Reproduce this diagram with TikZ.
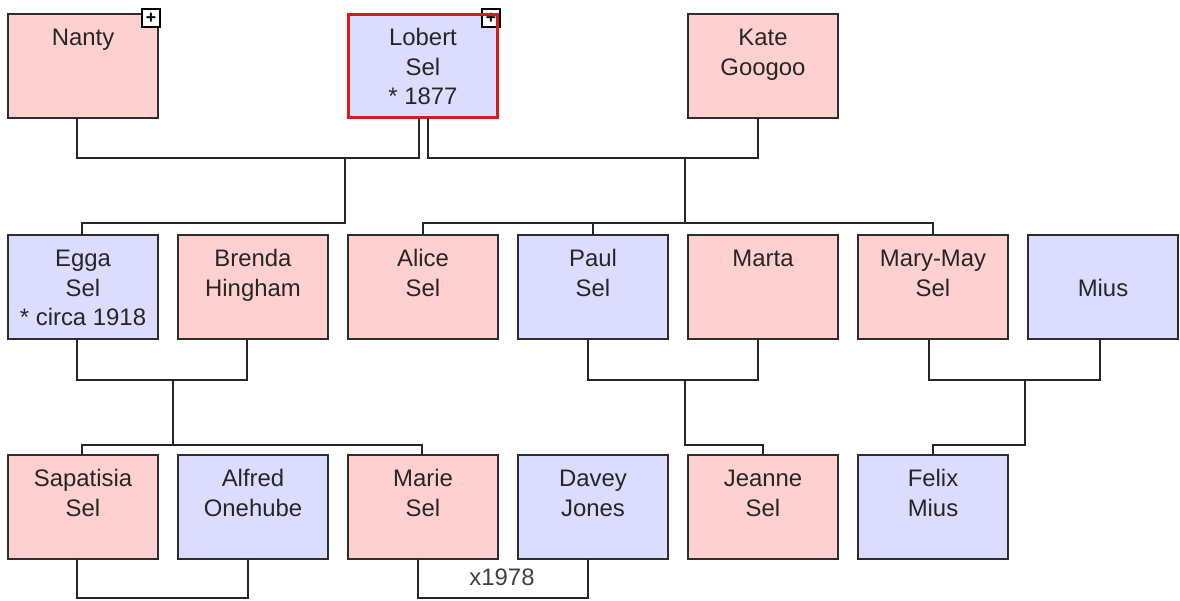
\documentclass[tikz,border=0pt]{standalone}
\usepackage{fontspec}
\setmainfont{Liberation Sans}
\usetikzlibrary{positioning}
\definecolor{herfill}{RGB}{255,208,208}
\definecolor{hisfill}{RGB}{220,220,255}
\definecolor{framegray}{RGB}{45,45,45}
\definecolor{selred}{RGB}{220,25,25}
\newcommand{\persontext}[1]{\parbox[t][2.08cm][t]{3cm}{\centering\rule{0pt}{0.63cm}#1}}

\begin{document}
\begin{tikzpicture}[x=0.02cm,y=-0.02cm,
	person/.style={draw=framegray, line width=1pt, outer sep=0pt, inner sep=0pt,
		minimum width=3cm, minimum height=2.08cm,
		font=\fontsize{13.6pt}{16.8pt}\selectfont, text=black!85},
	her/.style={person, fill=herfill},
	him/.style={person, fill=hisfill},
	link/.style={line width=0.8pt, black!85},
	expander/.style={draw=black, fill=white, line width=0.8pt, minimum size=0.36cm,
		inner sep=0pt, font=\fontsize{10pt}{10pt}\selectfont\bfseries}]
	\useasboundingbox (0,0) rectangle (1180,601);
	% generation 1
	\node[her] (nanty) at (83,66) {\persontext{Nanty}};
	\node[him, draw=selred, line width=1.7pt] (lobert) at (423,66) {\persontext{Lobert\\Sel\\{}* 1877}};
	\node[her] (kate) at (763,66) {\persontext{Kate\\Googoo}};
	\node[expander] (nantyplus) at (151,18) {+};
	\node[expander] (lobertplus) at (491,18) {+};
	\draw[selred, line width=1.7pt] (lobert.south west) rectangle (lobert.north east);
	% generation 2
	\node[him] (egga) at (83,287) {\persontext{Egga\\Sel\\{}* circa 1918}};
	\node[her] (brenda) at (253,287) {\persontext{Brenda\\Hingham}};
	\node[her] (alice) at (423,287) {\persontext{Alice\\Sel}};
	\node[him] (paul) at (593,287) {\persontext{Paul\\Sel}};
	\node[her] (marta) at (763,287) {\persontext{Marta}};
	\node[her] (marymay) at (933,287) {\persontext{Mary-May\\Sel}};
	\node[him] (mius) at (1103,287) {\persontext{\\Mius}};
	% generation 3
	\node[her] (sapatisia) at (83,507) {\persontext{Sapatisia\\Sel}};
	\node[him] (alfred) at (253,507) {\persontext{Alfred\\Onehube}};
	\node[her] (marie) at (423,507) {\persontext{Marie\\Sel}};
	\node[him] (davey) at (593,507) {\persontext{Davey\\Jones}};
	\node[her] (jeanne) at (763,507) {\persontext{Jeanne\\Sel}};
	\node[him] (felix) at (933,507) {\persontext{Felix\\Mius}};
	
	% couples and children
	\coordinate (nl) at (345,158);
	\coordinate (nlkids) at (345,223);
	\draw[link] ([xshift=-0.12cm]nanty.south) |- (nl) -| ([xshift=-0.08cm]lobert.south);
	\draw[link] (nl) -- (nlkids) -| ([xshift=-0.02cm]egga.north);
	
	\coordinate (lk) at (685,158);
	\coordinate (lkkids) at (685,223);
	\draw[link] ([xshift=0.1cm]lobert.south) |- (lk) -| ([xshift=-0.1cm]kate.south);
	\draw[link] (lk) -- (lkkids);
	\draw[link] (alice.north) |- (lkkids) -| (marymay.north);
	\draw[link] (paul.north) -- (paul.north |- lkkids);
	
	\coordinate (eb) at (173,380);
	\coordinate (ebkids) at (173,445);
	\draw[link] ([xshift=-0.12cm]egga.south) |- (eb) -| ([xshift=-0.12cm]brenda.south);
	\draw[link] (eb) -- (ebkids);
	\draw[link] ([xshift=-0.02cm]sapatisia.north) |- (ebkids) -| ([xshift=-0.02cm]marie.north);
	
	\coordinate (pm) at (685,380);
	\coordinate (pmkids) at (685,445);
	\draw[link] ([xshift=-0.1cm]paul.south) |- (pm) -| ([xshift=-0.1cm]marta.south);
	\draw[link] (pm) -- (pmkids) -| (jeanne.north);
	
	\coordinate (mm) at (1025,380);
	\coordinate (mmkids) at (1025,445);
	\draw[link] ([xshift=-0.08cm]marymay.south) |- (mm) -| ([xshift=-0.06cm]mius.south);
	\draw[link] (mm) -- (mmkids) -| (felix.north);
	
	\coordinate (sa) at (160,598);
	\draw[link] ([xshift=-0.12cm]sapatisia.south) |- (sa) -| ([xshift=-0.1cm]alfred.south);
	\coordinate (md) at (502,598);
	\draw[link] ([xshift=-0.1cm]marie.south) |- (md) -| ([xshift=-0.1cm]davey.south);
	\node[font=\fontsize{13.6pt}{16.8pt}\selectfont, text=black!75] (wedding) at (502,577) {x1978};
\end{tikzpicture}
\end{document}
